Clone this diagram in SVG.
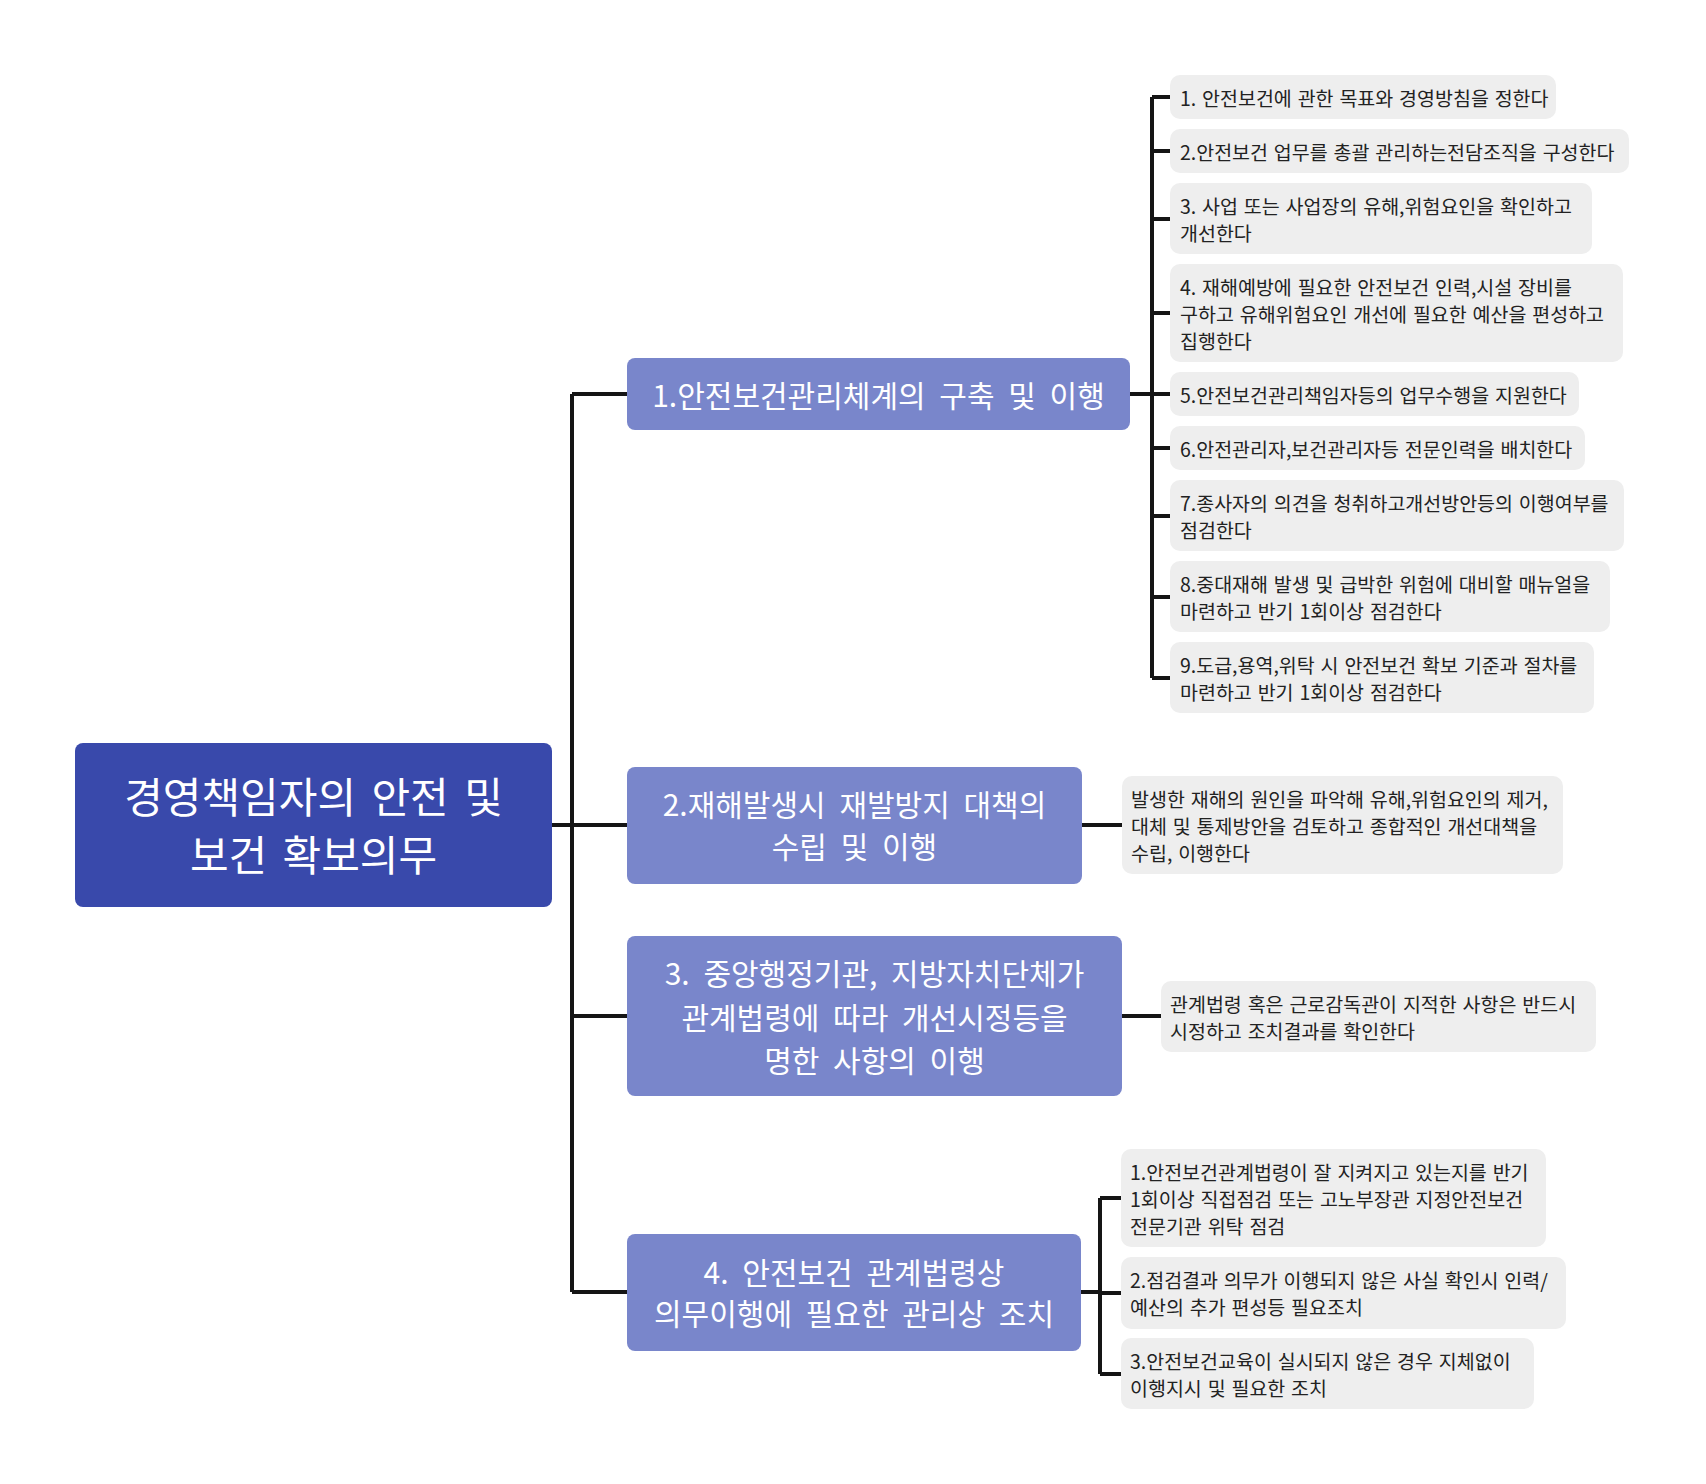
<svg xmlns="http://www.w3.org/2000/svg" width="1706" height="1484" viewBox="0 0 1706 1484">
<style>
.root{fill:#3949ab}
.node{fill:#7986cb}
.leaf{fill:#eeeeee}
.tr{font-family:"Noto Sans CJK KR","Noto Sans",sans-serif;font-size:42px;word-spacing:6px;fill:#ffffff;text-anchor:middle;dominant-baseline:central}
.tn{font-family:"Noto Sans CJK KR","Noto Sans",sans-serif;font-size:30px;word-spacing:7px;fill:#ffffff;text-anchor:middle;dominant-baseline:central}
.tl{font-family:"Noto Sans CJK KR","Noto Sans",sans-serif;font-size:19.5px;word-spacing:1.5px;fill:#222222;dominant-baseline:central}
.c{fill:none;stroke:#151515;stroke-width:4}
</style>
<rect width="1706" height="1484" fill="#ffffff"/>
<g id="connectors">
<path class="c" d="M552 825H572M572 394V1292M572 394H627M572 825H627M572 1016H627M572 1292H627"/>
<path class="c" d="M1130 394H1152M1152 97V678M1152 97H1170M1152 151H1170M1152 219H1170M1152 313H1170M1152 394H1170M1152 448H1170M1152 516H1170M1152 597H1170M1152 678H1170"/>
<path class="c" d="M1082 825H1122"/>
<path class="c" d="M1122 1016H1161"/>
<path class="c" d="M1081 1292H1100M1100 1198V1374M1100 1198H1121M1100 1293H1121M1100 1374H1121"/>
</g>
<g id="root">
<rect class="root" x="75" y="743" width="477" height="164" rx="8"/>
<text class="tr" x="313.5" y="794">경영책임자의 안전 및</text>
<text class="tr" x="313.5" y="852">보건 확보의무</text>
</g>
<g id="n1">
<rect class="node" x="627" y="358" width="503" height="72" rx="8"/>
<text class="tn" x="878.5" y="394">1.안전보건관리체계의 구축 및 이행</text>
</g>
<g id="n2">
<rect class="node" x="627" y="767" width="455" height="117" rx="8"/>
<text class="tn" x="854.5" y="803">2.재해발생시 재발방지 대책의</text>
<text class="tn" x="854.5" y="845">수립 및 이행</text>
</g>
<g id="n3">
<rect class="node" x="627" y="936" width="495" height="160" rx="8"/>
<text class="tn" x="874.5" y="972">3. 중앙행정기관, 지방자치단체가</text>
<text class="tn" x="874.5" y="1016">관계법령에 따라 개선시정등을</text>
<text class="tn" x="874.5" y="1059">명한 사항의 이행</text>
</g>
<g id="n4">
<rect class="node" x="627" y="1234" width="454" height="117" rx="8"/>
<text class="tn" x="854" y="1271">4. 안전보건 관계법령상</text>
<text class="tn" x="854" y="1312">의무이행에 필요한 관리상 조치</text>
</g>
<g id="l1-1">
<rect class="leaf" x="1170" y="75" width="386" height="44" rx="10"/>
<text class="tl" x="1180" y="97">1. 안전보건에 관한 목표와 경영방침을 정한다</text>
</g>
<g id="l1-2">
<rect class="leaf" x="1170" y="129" width="459" height="44" rx="10"/>
<text class="tl" x="1180" y="151">2.안전보건 업무를 총괄 관리하는전담조직을 구성한다</text>
</g>
<g id="l1-3">
<rect class="leaf" x="1170" y="183" width="422" height="71" rx="10"/>
<text class="tl" x="1180" y="205">3. 사업 또는 사업장의 유해,위험요인을 확인하고</text>
<text class="tl" x="1180" y="232">개선한다</text>
</g>
<g id="l1-4">
<rect class="leaf" x="1170" y="264" width="453" height="98" rx="10"/>
<text class="tl" x="1180" y="286">4. 재해예방에 필요한 안전보건 인력,시설 장비를</text>
<text class="tl" x="1180" y="313">구하고 유해위험요인 개선에 필요한 예산을 편성하고</text>
<text class="tl" x="1180" y="340">집행한다</text>
</g>
<g id="l1-5">
<rect class="leaf" x="1170" y="372" width="409" height="44" rx="10"/>
<text class="tl" x="1180" y="394">5.안전보건관리책임자등의 업무수행을 지원한다</text>
</g>
<g id="l1-6">
<rect class="leaf" x="1170" y="426" width="415" height="44" rx="10"/>
<text class="tl" x="1180" y="448">6.안전관리자,보건관리자등 전문인력을 배치한다</text>
</g>
<g id="l1-7">
<rect class="leaf" x="1170" y="480" width="454" height="71" rx="10"/>
<text class="tl" x="1180" y="502">7.종사자의 의견을 청취하고개선방안등의 이행여부를</text>
<text class="tl" x="1180" y="529">점검한다</text>
</g>
<g id="l1-8">
<rect class="leaf" x="1170" y="561" width="440" height="71" rx="10"/>
<text class="tl" x="1180" y="583">8.중대재해 발생 및 급박한 위험에 대비할 매뉴얼을</text>
<text class="tl" x="1180" y="610">마련하고 반기 1회이상 점검한다</text>
</g>
<g id="l1-9">
<rect class="leaf" x="1170" y="642" width="424" height="71" rx="10"/>
<text class="tl" x="1180" y="664">9.도급,용역,위탁 시 안전보건 확보 기준과 절차를</text>
<text class="tl" x="1180" y="691">마련하고 반기 1회이상 점검한다</text>
</g>
<g id="l2">
<rect class="leaf" x="1122" y="776" width="441" height="98" rx="10"/>
<text class="tl" x="1131" y="798">발생한 재해의 원인을 파악해 유해,위험요인의 제거,</text>
<text class="tl" x="1131" y="825">대체 및 통제방안을 검토하고 종합적인 개선대책을</text>
<text class="tl" x="1131" y="852">수립, 이행한다</text>
</g>
<g id="l3">
<rect class="leaf" x="1161" y="981" width="435" height="71" rx="10"/>
<text class="tl" x="1170" y="1003">관계법령 혹은 근로감독관이 지적한 사항은 반드시</text>
<text class="tl" x="1170" y="1030">시정하고 조치결과를 확인한다</text>
</g>
<g id="l4-1">
<rect class="leaf" x="1121" y="1149" width="425" height="98" rx="10"/>
<text class="tl" x="1130" y="1171">1.안전보건관계법령이 잘 지켜지고 있는지를 반기</text>
<text class="tl" x="1130" y="1198">1회이상 직접점검 또는 고노부장관 지정안전보건</text>
<text class="tl" x="1130" y="1225">전문기관 위탁 점검</text>
</g>
<g id="l4-2">
<rect class="leaf" x="1121" y="1257" width="445" height="72" rx="10"/>
<text class="tl" x="1130" y="1279">2.점검결과 의무가 이행되지 않은 사실 확인시 인력/</text>
<text class="tl" x="1130" y="1306">예산의 추가 편성등 필요조치</text>
</g>
<g id="l4-3">
<rect class="leaf" x="1121" y="1338" width="413" height="71" rx="10"/>
<text class="tl" x="1130" y="1360">3.안전보건교육이 실시되지 않은 경우 지체없이</text>
<text class="tl" x="1130" y="1387">이행지시 및 필요한 조치</text>
</g>
</svg>
